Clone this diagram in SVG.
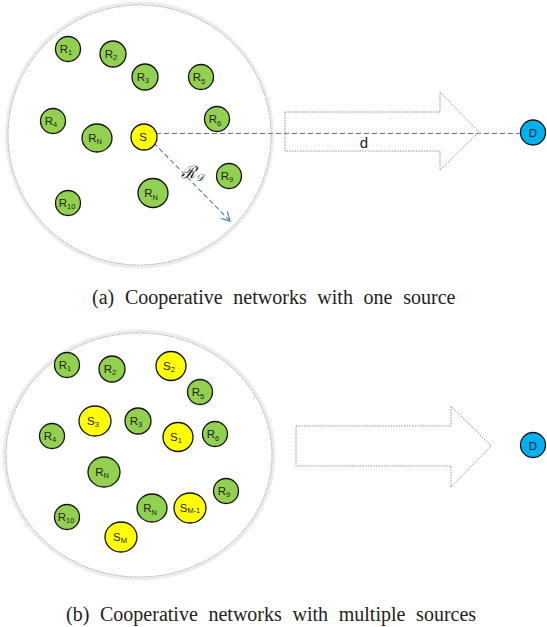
<svg xmlns="http://www.w3.org/2000/svg" width="547" height="627" viewBox="0 0 547 627">
<style>
.area{fill:#fff;stroke:#8a8a8a;stroke-width:0.8;stroke-dasharray:1.2 1.2}
.halo{fill:none;stroke:#ececec;stroke-width:5}
.arrow{fill:#fff;stroke:#8a8a8a;stroke-width:0.9;stroke-dasharray:1.5 1.2}
.r{fill:#92d050;stroke:#111;stroke-width:1.3}
.s{fill:#ffff00;stroke:#111;stroke-width:1.3}
.d{fill:#00b0f0;stroke:#111;stroke-width:1.3}
.lbl{font-family:"Liberation Sans",Arial,sans-serif;font-size:11.5px;fill:#222;text-anchor:middle}
.sub{font-size:7.5px}
.cap{font-family:"Liberation Serif","Times New Roman",serif;font-size:20px;word-spacing:5.7px;fill:#222}
.conn{fill:none;stroke:#4f81bd;stroke-width:1.1;stroke-dasharray:5 3}
</style>
<defs>
<marker id="vhead" viewBox="0 0 10 10" refX="9" refY="5" markerWidth="10" markerHeight="10" markerUnits="userSpaceOnUse" orient="auto">
<path d="M0,0 L9,5 L0,10" fill="none" stroke="#4f81bd" stroke-width="1.2"/>
</marker>
</defs>

<!-- (a) -->
<g id="areaA">
<ellipse class="halo" cx="139.5" cy="135" rx="132" ry="131"/>
<ellipse class="area" cx="139.5" cy="135" rx="131.5" ry="130"/>
</g>
<g id="bigArrowA"><polygon class="arrow" points="285,112 440,112 440,92 479,132 440,170 440,151 285,151"/></g>

<g id="connectors">
<line class="conn" x1="148" y1="133.5" x2="521" y2="133.5"/>
<line class="conn" x1="148" y1="137" x2="230" y2="221" marker-end="url(#vhead)"/>
</g>
<text x="364" y="148" font-family="Liberation Sans,Arial,sans-serif" font-size="15" fill="#222" text-anchor="middle">d</text>
<text x="192" y="178" font-family="Liberation Serif,serif" font-style="italic" font-size="17" fill="#222" text-anchor="middle">ℛ<tspan font-size="10" dy="3">𝒟</tspan></text>

<g id="a_R1"><circle class="r" cx="68" cy="49" r="12.5"/><text class="lbl" x="66" y="53">R<tspan class="sub" dy="2">1</tspan></text></g>
<g id="a_R2"><circle class="r" cx="113" cy="54" r="13"/><text class="lbl" x="111" y="58">R<tspan class="sub" dy="2">2</tspan></text></g>
<g id="a_R3"><circle class="r" cx="145" cy="77" r="13"/><text class="lbl" x="143" y="81">R<tspan class="sub" dy="2">3</tspan></text></g>
<g id="a_R5"><circle class="r" cx="201" cy="77" r="12.5"/><text class="lbl" x="199" y="81">R<tspan class="sub" dy="3" font-size="6">5</tspan></text></g>
<g id="a_R4"><circle class="r" cx="53" cy="121" r="12.5"/><text class="lbl" x="51" y="125">R<tspan class="sub" dy="2">4</tspan></text></g>
<g id="a_RN"><ellipse class="r" cx="97" cy="138" rx="15" ry="14"/><text class="lbl" x="95" y="142">R<tspan class="sub" dy="2">N</tspan></text></g>
<g id="a_S"><circle class="s" cx="144" cy="137" r="13"/><text class="lbl" x="143" y="141">S</text></g>
<g id="a_R6"><circle class="r" cx="217" cy="119" r="12.5"/><text class="lbl" x="215" y="123">R<tspan class="sub" dy="3" font-size="6">6</tspan></text></g>
<g id="a_R9"><circle class="r" cx="229" cy="176" r="12.5"/><text class="lbl" x="227" y="180">R<tspan class="sub" dy="2">9</tspan></text></g>
<g id="a_RN2"><ellipse class="r" cx="153" cy="193" rx="15" ry="14.5"/><text class="lbl" x="151" y="197">R<tspan class="sub" dy="3" font-size="5">N</tspan></text></g>
<g id="a_R10"><circle class="r" cx="68" cy="203" r="12.5"/><text class="lbl" x="67" y="207">R<tspan class="sub" dy="2">10</tspan></text></g>
<g id="a_D"><circle class="d" cx="533" cy="132.5" r="12.5"/><text class="lbl" x="533" y="137">D</text></g>

<text class="cap" x="92" y="304">(a) Cooperative networks with one source</text>

<!-- (b) -->
<g id="areaB">
<ellipse class="halo" cx="139" cy="455" rx="134" ry="123"/>
<ellipse class="area" cx="139" cy="455" rx="133" ry="122"/>
</g>
<g id="bigArrowB"><polygon class="arrow" points="296,426 451,426 451,406 491,446 451,487 451,466 296,466"/></g>

<g id="b_R1"><circle class="r" cx="67" cy="365" r="12.5"/><text class="lbl" x="65" y="369">R<tspan class="sub" dy="2">1</tspan></text></g>
<g id="b_R2"><circle class="r" cx="112" cy="369" r="13"/><text class="lbl" x="110" y="373">R<tspan class="sub" dy="2">2</tspan></text></g>
<g id="b_S2"><ellipse class="s" cx="171" cy="366" rx="15" ry="14.5"/><text class="lbl" x="169" y="370">S<tspan class="sub" dy="2">2</tspan></text></g>
<g id="b_R5"><circle class="r" cx="200" cy="392" r="12.5"/><text class="lbl" x="198" y="396">R<tspan class="sub" dy="3" font-size="6">5</tspan></text></g>
<g id="b_S3"><ellipse class="s" cx="95" cy="421" rx="16" ry="15"/><text class="lbl" x="93" y="425">S<tspan class="sub" dy="2">3</tspan></text></g>
<g id="b_R3"><circle class="r" cx="138" cy="421" r="13"/><text class="lbl" x="136" y="425">R<tspan class="sub" dy="2">3</tspan></text></g>
<g id="b_S1"><ellipse class="s" cx="178" cy="437" rx="15" ry="14.5"/><text class="lbl" x="176" y="441">S<tspan class="sub" dy="2">1</tspan></text></g>
<g id="b_R6"><circle class="r" cx="215" cy="434" r="12.5"/><text class="lbl" x="213" y="438">R<tspan class="sub" dy="3" font-size="6">6</tspan></text></g>
<g id="b_R4"><circle class="r" cx="52" cy="436" r="12.5"/><text class="lbl" x="50" y="440">R<tspan class="sub" dy="2">4</tspan></text></g>
<g id="b_RN"><ellipse class="r" cx="104" cy="472" rx="16" ry="15"/><text class="lbl" x="102" y="476">R<tspan class="sub" dy="2">N</tspan></text></g>
<g id="b_R9"><circle class="r" cx="226" cy="491" r="12.5"/><text class="lbl" x="224" y="495">R<tspan class="sub" dy="2">9</tspan></text></g>
<g id="b_RN2"><ellipse class="r" cx="152" cy="508" rx="15" ry="14"/><text class="lbl" x="150" y="512">R<tspan class="sub" dy="3" font-size="5">N</tspan></text></g>
<g id="b_SM1"><ellipse class="s" cx="190" cy="508" rx="16" ry="15"/><text class="lbl" x="190" y="512" font-size="10.5">S<tspan class="sub" dy="1" font-size="7.5">M-1</tspan></text></g>
<g id="b_R10"><circle class="r" cx="67" cy="517" r="12.5"/><text class="lbl" x="66" y="521">R<tspan class="sub" dy="2">10</tspan></text></g>
<g id="b_SM"><ellipse class="s" cx="121" cy="537" rx="16" ry="15"/><text class="lbl" x="120" y="541">S<tspan class="sub" dy="2">M</tspan></text></g>
<g id="b_D"><circle class="d" cx="533" cy="445" r="12.5"/><text class="lbl" x="533" y="449.5">D</text></g>

<text class="cap" x="66" y="621">(b) Cooperative networks with multiple sources</text>
</svg>
